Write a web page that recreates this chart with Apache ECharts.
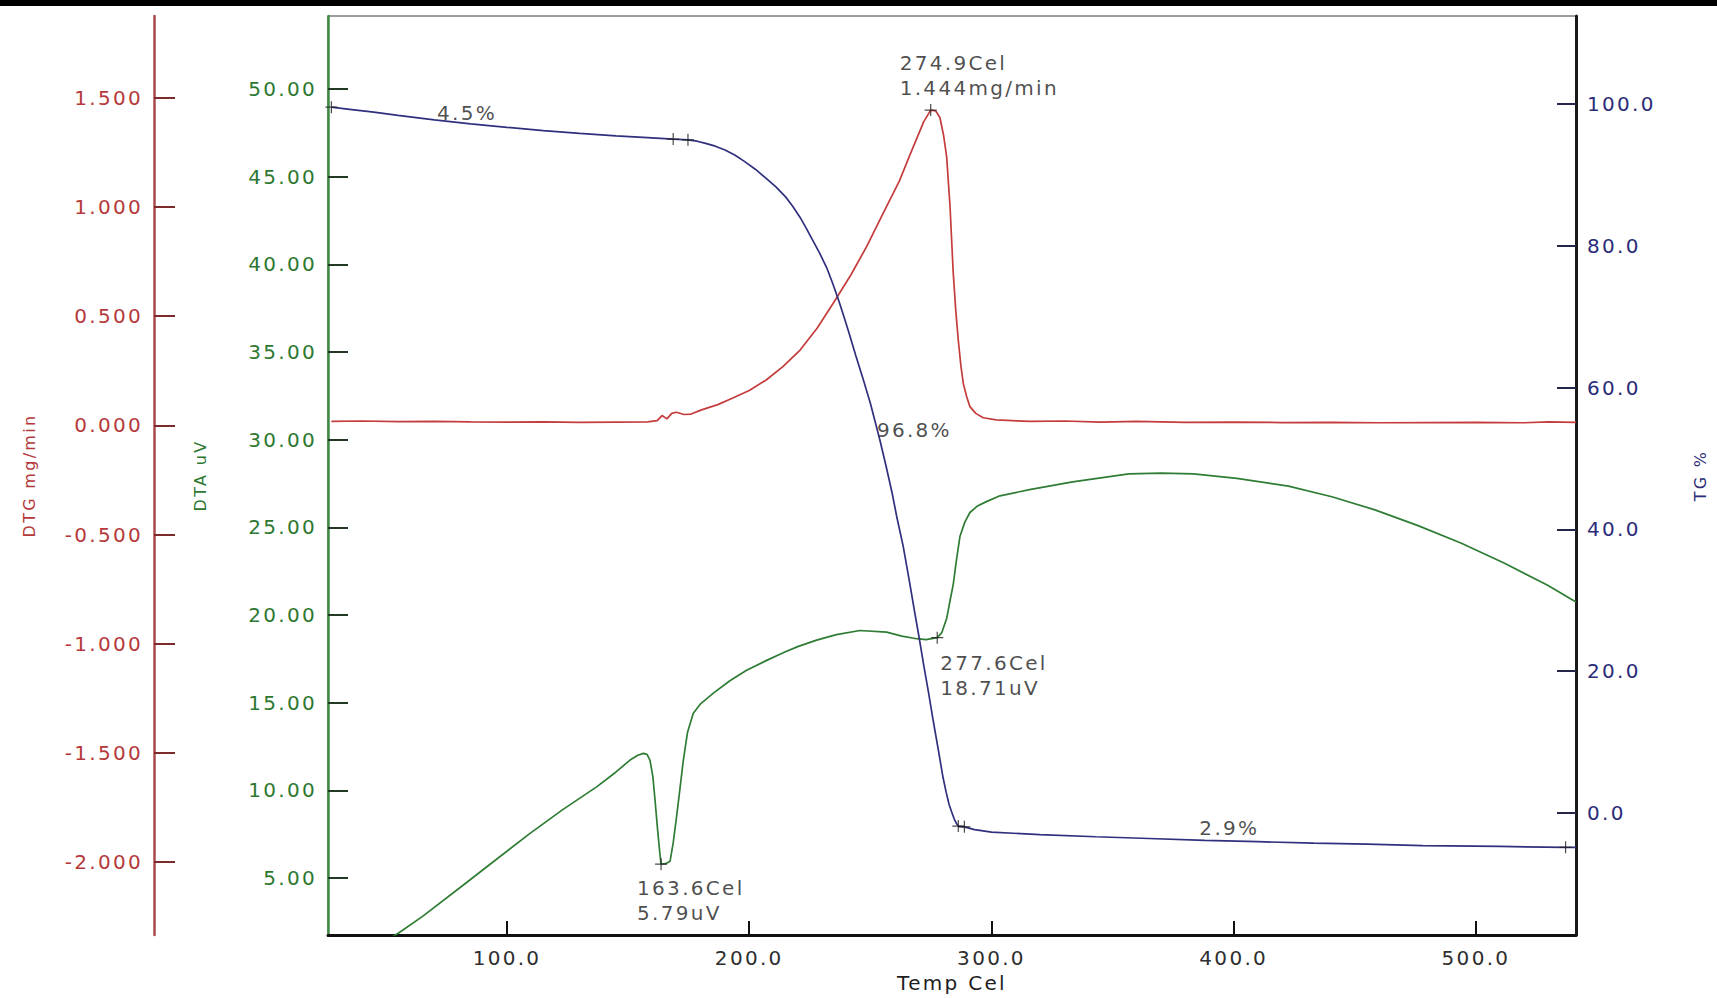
<!DOCTYPE html>
<html>
<head>
<meta charset="utf-8">
<title>TG / DTG / DTA</title>
<script src="https://cdn.jsdelivr.net/npm/echarts@6/dist/echarts.min.js"></script>
<style>
  html, body { margin: 0; padding: 0; background: #ffffff; }
  #chart { width: 1717px; height: 998px; }
  /* instrument printout uses widely tracked lettering */
  #chart svg text { letter-spacing: 2.3px; }
</style>
</head>
<body>
<div id="chart"></div>
<script>
// ---- tick labels ----
const xTicks = [100, 200, 300, 400, 500];
const dtgTicks = [-2.0, -1.5, -1.0, -0.5, 0.0, 0.5, 1.0, 1.5];
const dtaTicks = [5, 10, 15, 20, 25, 30, 35, 40, 45, 50];
const tgTicks = [0, 20, 40, 60, 80, 100];

// ---- TG curve: [temperature Cel, mass %] ----
const tgCurve = [
  [27.5, 99.55], [35, 99.25], [45, 98.85], [55, 98.4], [70, 97.75], [85, 97.2],
  [100, 96.7], [115, 96.25], [130, 95.85], [145, 95.5], [158, 95.25], [168.6, 95.05],
  [174.7, 94.95], [178.5, 94.75], [182, 94.45], [186, 94.05], [190, 93.5], [194, 92.8],
  [198, 91.9], [202.5, 90.8], [207, 89.5], [211, 88.3], [215, 86.9], [218, 85.55],
  [221, 84.0], [223.5, 82.5], [226, 80.9], [229, 79.0], [232, 76.9], [234.5, 74.65],
  [237, 72.2], [239, 70.1], [241, 67.9], [244, 64.5], [247, 61.2], [250, 57.8],
  [254, 52.5], [256.5, 48.9], [259, 45.1], [261, 41.6], [263.5, 37.7], [266, 32.9],
  [268, 28.9], [270, 25.0], [272, 20.9], [274, 17.0], [276, 12.9], [278, 9.0],
  [280, 5.0], [281.3, 2.9], [282.5, 1.2], [283.5, 0.2], [284.5, -0.75], [285.5, -1.45],
  [286.3, -1.85], [288.8, -1.95], [293, -2.35], [300, -2.7], [320, -3.05], [343, -3.35],
  [365, -3.6], [388, -3.85], [410, -4.05], [433, -4.25], [455, -4.4], [478, -4.6],
  [510, -4.72], [537, -4.85], [541.3, -4.85]
];

// ---- DTG curve: [temperature Cel, mg/min] ----
const dtgCurve = [
  [27.5, 0.018], [40, 0.02], [55, 0.017], [70, 0.018], [85, 0.016], [100, 0.015],
  [115, 0.016], [130, 0.014], [145, 0.015], [158, 0.016], [162, 0.022], [164, 0.045],
  [166, 0.03], [168, 0.055], [170, 0.06], [173, 0.05], [176, 0.052], [180, 0.07],
  [187, 0.095], [193, 0.124], [200, 0.16], [207, 0.208], [214, 0.27], [221, 0.345],
  [228, 0.445], [235, 0.565], [242, 0.69], [248.5, 0.82], [255, 0.965], [262, 1.12],
  [266, 1.23], [269, 1.31], [272, 1.39], [274.9, 1.444], [277, 1.44], [278.7, 1.41],
  [280.2, 1.33], [281.5, 1.23], [282.9, 1.0], [284.2, 0.70], [285.3, 0.52], [286.3, 0.39],
  [287.4, 0.27], [288.4, 0.19], [289.8, 0.13], [291.1, 0.086], [293.5, 0.055], [296.6, 0.035],
  [302, 0.025], [316, 0.018], [330, 0.02], [345, 0.015], [360, 0.018], [380, 0.014],
  [400, 0.015], [420, 0.013], [440, 0.014], [460, 0.012], [480, 0.013], [500, 0.014],
  [520, 0.012], [530, 0.016], [541.3, 0.014]
];

// ---- DTA curve: [temperature Cel, uV] ----
const dtaCurve = [
  [40, 0.6], [55.1, 1.85], [65, 2.8], [82, 4.6], [95, 6.0], [109.5, 7.55], [123, 8.9],
  [137, 10.2], [145, 11.05], [150.8, 11.73], [154, 12.0], [156.3, 12.11], [157.8, 12.05],
  [159, 11.73], [160.2, 10.8], [161.1, 9.45], [162.2, 7.7], [163.1, 6.4], [163.6, 5.79],
  [165.5, 5.82], [167.3, 5.95], [168.6, 7.0], [170, 8.5], [171.4, 10.1], [172.8, 11.73],
  [174.5, 13.3], [176.9, 14.4], [180, 14.95], [185.2, 15.55], [192, 16.25], [198.9, 16.85],
  [207, 17.4], [214, 17.85], [220, 18.2], [227.8, 18.57], [236, 18.88], [245.7, 19.12],
  [256.7, 19.03], [263, 18.8], [269.1, 18.65], [273, 18.6], [277.6, 18.71], [279.5, 19.0],
  [281.5, 19.8], [283, 20.9], [284.2, 21.74], [285.4, 23.0], [287, 24.5], [289, 25.3],
  [291.1, 25.85], [294, 26.2], [297.9, 26.47], [303.5, 26.8], [315.7, 27.15], [333.5, 27.6],
  [356.7, 28.05], [370, 28.1], [383.4, 28.05], [401.3, 27.8], [422.6, 27.35], [440.5, 26.75],
  [458.3, 26.0], [476.1, 25.1], [494, 24.1], [511.8, 22.95], [529.6, 21.7], [541.3, 20.75]
];

// ---- analysed points ----
const dtgPeak = [274.9, 1.444];
const dtaPeaks = [[163.6, 5.79], [277.6, 18.71]];
const tgMarkTemps = [27.5, 168.6, 174.7, 286.3, 288.8, 537];
const tgSteps = [4.5, 96.8, 2.9];

// ---- drawing ----
const FONT = 'DejaVu Sans';
const RED = '#c43c3c', RED_AXIS = '#a84848', RED_TEXT = '#b5393a';
const GREEN = '#2f7d34', GREEN_AXIS = '#3f8a44', GREEN_TEXT = '#2c7830';
const BLUE = '#30307e', BLUE_TEXT = '#2b2b78';
const INK = '#1e1e1e';

function tgAt(t) {
  for (let i = 1; i < tgCurve.length; i++) {
    const a = tgCurve[i - 1], b = tgCurve[i];
    if (t <= b[0]) return a[1] + (b[1] - a[1]) * (t - a[0]) / (b[0] - a[0]);
  }
  return tgCurve[tgCurve.length - 1][1];
}

const plusSymbol = 'path://M5.4,0H6.6V5.4H12V6.6H6.6V12H5.4V6.6H0V5.4H5.4Z';

const chart = echarts.init(document.getElementById('chart'), null, { renderer: 'svg' });

const stepLabelSpots = [
  { t: 83.5, align: 'center', offset: [0, -10] },
  { t: 253.1, align: 'left', offset: [-1, -2] },
  { t: 398.2, align: 'center', offset: [0, -13] }
];

const lineCommon = { showSymbol: false, clip: true, smooth: false };

chart.setOption({
  animation: false,
  backgroundColor: '#ffffff',
  textStyle: { fontFamily: FONT },
  graphic: [{
    type: 'rect', left: 0, top: 0, z: 100,
    shape: { width: 1717, height: 6 }, style: { fill: '#000000' }
  }],
  grid: {
    left: 328, top: 16, right: 141, bottom: 63,
    show: true, borderColor: '#3a3a3a', borderWidth: 1, backgroundColor: '#ffffff'
  },
  xAxis: {
    type: 'value', min: 26.1, max: 541.3,
    name: 'Temp Cel', nameLocation: 'middle', nameGap: 37,
    nameTextStyle: { color: INK, fontSize: 20, fontFamily: FONT },
    axisLine: { show: true, onZero: false, lineStyle: { color: '#111111', width: 3 } },
    axisTick: { show: true, inside: true, length: 14, customValues: xTicks, lineStyle: { color: '#111111', width: 2 } },
    axisLabel: { show: true, customValues: xTicks, margin: 13, fontSize: 20, color: '#2e2e2e', fontFamily: FONT,
      formatter: v => v.toFixed(1) },
    splitLine: { show: false }
  },
  yAxis: [
    {
      type: 'value', position: 'left', offset: 174, min: -2.334, max: 1.875,
      name: 'DTG mg/min', nameLocation: 'middle', nameGap: 117,
      nameTextStyle: { color: RED_TEXT, fontSize: 16, fontFamily: FONT },
      axisLine: { show: true, onZero: false, lineStyle: { color: RED_AXIS, width: 2.5 } },
      axisTick: { show: true, inside: true, length: 21, customValues: dtgTicks, lineStyle: { color: '#7c2a2a', width: 2 } },
      axisLabel: { show: true, customValues: dtgTicks, margin: 11, fontSize: 20, color: RED_TEXT, fontFamily: FONT,
        formatter: v => v.toFixed(3) },
      splitLine: { show: false }
    },
    {
      type: 'value', position: 'left', offset: 0, min: 1.75, max: 54.17,
      name: 'DTA uV', nameLocation: 'middle', nameGap: 120,
      nameTextStyle: { color: GREEN_TEXT, fontSize: 16, fontFamily: FONT },
      axisLine: { show: true, onZero: false, lineStyle: { color: GREEN_AXIS, width: 2.5 } },
      axisTick: { show: true, inside: true, length: 20, customValues: dtaTicks, lineStyle: { color: '#223a24', width: 2 } },
      axisLabel: { show: true, customValues: dtaTicks, margin: 11, fontSize: 20, color: GREEN_TEXT, fontFamily: FONT,
        formatter: v => v.toFixed(2) },
      splitLine: { show: false }
    },
    {
      type: 'value', position: 'right', offset: 0, min: -17.21, max: 112.41,
      name: 'TG %', nameLocation: 'middle', nameGap: 116,
      nameTextStyle: { color: BLUE_TEXT, fontSize: 16, fontFamily: FONT },
      axisLine: { show: true, onZero: false, lineStyle: { color: '#1a1a1a', width: 3 } },
      axisTick: { show: true, inside: true, length: 19, customValues: tgTicks, lineStyle: { color: '#26264a', width: 2 } },
      axisLabel: { show: true, customValues: tgTicks, margin: 11, fontSize: 20, color: BLUE_TEXT, fontFamily: FONT,
        formatter: v => v.toFixed(1) },
      splitLine: { show: false }
    }
  ],
  series: [
    Object.assign({
      name: 'DTA', type: 'line', yAxisIndex: 1, data: dtaCurve,
      lineStyle: { color: GREEN, width: 1.7 }, z: 2
    }, lineCommon),
    Object.assign({
      name: 'DTG', type: 'line', yAxisIndex: 0, data: dtgCurve,
      lineStyle: { color: RED, width: 1.7 }, z: 2
    }, lineCommon),
    Object.assign({
      name: 'TG', type: 'line', yAxisIndex: 2, data: tgCurve,
      lineStyle: { color: BLUE, width: 1.7 }, z: 3
    }, lineCommon),
    {
      name: 'DTG peak', type: 'scatter', yAxisIndex: 0, z: 5,
      symbol: plusSymbol, symbolSize: 12, itemStyle: { color: INK },
      data: [dtgPeak],
      label: {
        show: true, position: 'inside', align: 'left', verticalAlign: 'top', offset: [-31, -60],
        fontSize: 20, lineHeight: 25, color: INK, fontFamily: FONT,
        formatter: p => p.value[0].toFixed(1) + 'Cel\n' + p.value[1].toFixed(3) + 'mg/min'
      }
    },
    {
      name: 'DTA peaks', type: 'scatter', yAxisIndex: 1, z: 5,
      symbol: plusSymbol, symbolSize: 12, itemStyle: { color: INK },
      data: dtaPeaks.map((p, i) => ({
        value: p,
        label: { offset: i === 0 ? [-24, 11] : [3, 13] }
      })),
      label: {
        show: true, position: 'inside', align: 'left', verticalAlign: 'top',
        fontSize: 20, lineHeight: 25, color: INK, fontFamily: FONT,
        formatter: p => p.value[0].toFixed(1) + 'Cel\n' + p.value[1].toFixed(2) + 'uV'
      }
    },
    {
      name: 'TG marks', type: 'scatter', yAxisIndex: 2, z: 5,
      symbol: plusSymbol, symbolSize: 12, itemStyle: { color: INK },
      data: tgMarkTemps.map(t => [t, tgAt(t)])
    },
    {
      name: 'TG steps', type: 'scatter', yAxisIndex: 2, z: 6,
      symbol: 'circle', symbolSize: 1, itemStyle: { color: 'transparent' },
      data: tgSteps.map((s, i) => ({
        value: [stepLabelSpots[i].t, tgAt(stepLabelSpots[i].t)],
        label: { align: stepLabelSpots[i].align, offset: stepLabelSpots[i].offset },
        stepText: s.toFixed(1) + '%'
      })),
      label: {
        show: true, position: 'inside', verticalAlign: 'middle',
        fontSize: 20, color: INK, fontFamily: FONT,
        formatter: p => p.data.stepText
      }
    }
  ]
});
</script>
</body>
</html>
